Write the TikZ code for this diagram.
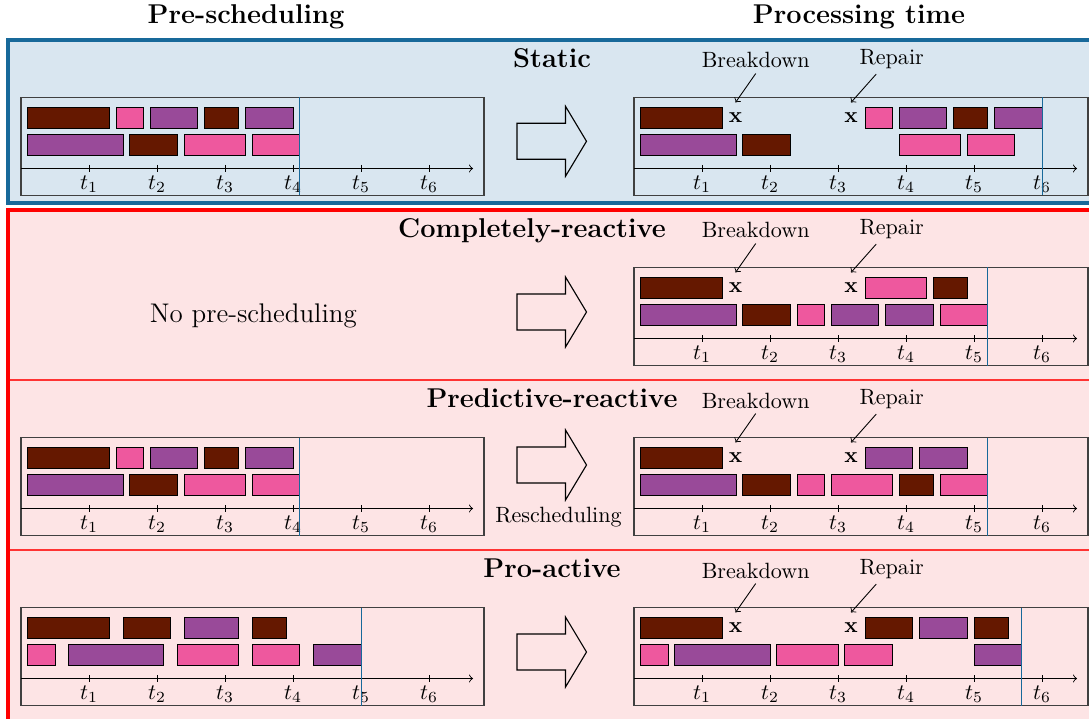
\documentclass[tikz,border=0pt]{standalone}
\definecolor{brn}{RGB}{101,24,0}
\definecolor{pnk}{RGB}{238,88,158}
\definecolor{prp}{RGB}{153,74,153}
\definecolor{statblue}{RGB}{24,105,154}
\definecolor{statfill}{RGB}{217,230,240}
\definecolor{reacfill}{RGB}{253,228,229}
\tikzset{
	job/.style={draw=black, line width=0.4pt},
	chartbox/.style={draw=black!75, line width=0.6pt},
	cutline/.style={draw=statblue, line width=0.4pt},
	heading/.style={font=\fontsize{12.3}{15}\selectfont\bfseries, anchor=base},
	xmark/.style={font=\bfseries, inner sep=4.6pt},
	evt/.style={anchor=base, inner sep=2.2pt},
	bigarrow/.style={draw=black, line width=0.5pt},
}
% #1 name, #2 x, #3 y, #4 box width, #5 cut (time units), #6 jobs row/start/end/colour
\newcommand{\gantt}[6]{
	\begin{scope}[shift={(#2,#3)}]
		\draw[chartbox] (0,0) rectangle (#4,98);
		\foreach \rw/\st/\en/\col in {#6}
			\draw[job, fill=\col] (6.8*\st,27*\rw-17) rectangle (6.8*\en,27*\rw+4);
		\draw[->] (0,71) -- (#4-11,71);
		\foreach \k in {1,...,6}
			\draw (68*\k,67.5) -- (68*\k,74.5) node [below, inner sep=1.5pt] (#1-t\k) {$t_\k$};
		\draw[cutline] (6.8*#5,0) -- (6.8*#5,98);
	\end{scope}
}
% #1 name, #2 x, #3 y
\newcommand{\events}[3]{
	\begin{scope}[shift={(#2,#3)}]
		\node[xmark] (#1-xb) at (101.5,20.5) {x};
		\node[xmark] (#1-xr) at (217,20.5) {x};
		\node[evt] (#1-bd) at (121.7,-29.5) {Breakdown};
		\node[evt] (#1-rp) at (257.7,-33) {Repair};
		\draw[->] (#1-bd.south) -- (#1-xb.north);
		\draw[->] ([xshift=-7pt]#1-rp.south) -- (#1-xr.north);
	\end{scope}
}
\newcommand{\bigarrow}[1]{
	\draw[bigarrow] (517,#1-18) -- (565.5,#1-18) -- (565.5,#1-35) -- (586.5,#1) -- (565.5,#1+35) -- (565.5,#1+18) -- (517,#1+18) -- cycle;
}
\begin{document}
\begin{tikzpicture}[x=0.4525pt, y=-0.4525pt]
	\useasboundingbox (0,0) rectangle (1089,719);
	\clip (0,0) rectangle (1089,719);
	\node[heading] (pre) at (246,24) {Pre-scheduling};
	\node[heading] (proc) at (859,24) {Processing time};

	\draw[statblue, line width=1.6pt, fill=statfill] (8,40) rectangle (1110,203);
	\foreach \ya/\yb in {210/380, 380/550, 550/719.5}
		\draw[red!80, line width=0.6pt, fill=reacfill] (8,\ya) rectangle (1110,\yb);
	\draw[red, line width=1.5pt] (1110,210) -- (8,210) -- (8,725);

	\node[heading] (static) at (552,67.5) {Static};
	\gantt{sl}{21}{97.5}{463}{41}{1/1/13/brn, 1/14/18/pnk, 1/19/26/prp, 1/27/32/brn, 1/33/40/prp, 2/1/15/prp, 2/16/23/brn, 2/24/33/pnk, 2/34/41/pnk}
	\bigarrow{141.3}
	\gantt{sr}{634}{97.5}{454}{60}{1/1/13/brn, 1/34/38/pnk, 1/39/46/prp, 1/47/52/brn, 1/53/60/prp, 2/1/15/prp, 2/16/23/brn, 2/39/48/pnk, 2/49/56/pnk}
	\events{sr}{634}{97.5}

	\node[heading] (complete) at (532,237.5) {Completely-reactive};
	\node[font=\fontsize{12.2}{15}\selectfont, anchor=base] (nopre) at (253.3,323) {No pre-scheduling};
	\bigarrow{312}
	\gantt{cr}{634}{267.5}{454}{52}{1/1/13/brn, 1/34/43/pnk, 1/44/49/brn, 2/1/15/prp, 2/16/23/brn, 2/24/28/pnk, 2/29/36/prp, 2/37/44/prp, 2/45/52/pnk}
	\events{cr}{634}{267.5}

	\node[heading] (predict) at (552,407.5) {Predictive-reactive};
	\gantt{pl}{21}{437.5}{463}{41}{1/1/13/brn, 1/14/18/pnk, 1/19/26/prp, 1/27/32/brn, 1/33/40/prp, 2/1/15/prp, 2/16/23/brn, 2/24/33/pnk, 2/34/41/pnk}
	\bigarrow{465}
	\node[anchor=base] (resched) at (558.5,522) {Rescheduling};
	\gantt{pr}{634}{437.5}{454}{52}{1/1/13/brn, 1/34/41/prp, 1/42/49/prp, 2/1/15/prp, 2/16/23/brn, 2/24/28/pnk, 2/29/38/pnk, 2/39/44/brn, 2/45/52/pnk}
	\events{pr}{634}{437.5}

	\node[heading] (proact) at (552,577.5) {Pro-active};
	\gantt{al}{21}{607.5}{463}{50}{1/1/13/brn, 1/15/22/brn, 1/24/32/prp, 1/34/39/brn, 2/1/5/pnk, 2/7/21/prp, 2/23/32/pnk, 2/34/41/pnk, 2/43/50/prp}
	\bigarrow{652}
	\gantt{ar}{634}{607.5}{454}{57}{1/1/13/brn, 1/34/41/brn, 1/42/49/prp, 1/50/55/brn, 2/1/5/pnk, 2/6/20/prp, 2/21/30/pnk, 2/31/38/pnk, 2/50/57/prp}
	\events{ar}{634}{607.5}
\end{tikzpicture}
\end{document}
